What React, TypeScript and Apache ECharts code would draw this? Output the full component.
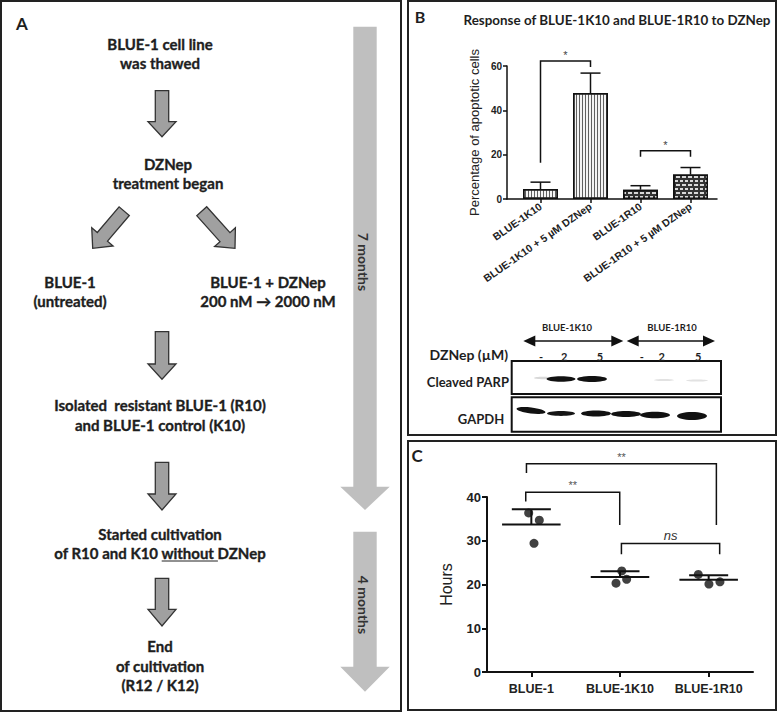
import React, { useEffect, useRef } from 'react';
import * as echarts from 'echarts';

// ---------- Panel B data ----------
const bCategories = ['BLUE-1K10', 'BLUE-1K10 + 5 µM DZNep', 'BLUE-1R10', 'BLUE-1R10 + 5 µM DZNep'];
const bStripeBars = [[0, 4.5], [1, 47.8]];
const bBrickBars = [[2, 4.2], [3, 11.0]];
const bMeans = [4.5, 47.8, 4.2, 11.0];
const bErrors = [3.1, 9.0, 1.8, 3.2];
// [xLeft, xRight, yLeftEnd, yTop, yRightEnd]
const bBrackets = [[0, 1, 16.3, 62.2, 59.5], [2, 3, 19.1, 21.8, 19.1]];
const bBracketLabels = ['*', '*'];

// ---------- Panel C data ----------
const cCategories = ['BLUE-1', 'BLUE-1K10', 'BLUE-1R10'];
const cPoints = [[36.35, 34.7, 29.4], [23.1, 20.3, 21.2], [22.3, 20.1, 20.6]];
const cJitter = [[-0.03, 0.09, 0.03], [0.02, -0.045, 0.075], [-0.117, 0.003, 0.127]];
const cMeans = [33.7, 21.7, 21.1];
const cSDUpper = [37.2, 23.05, 22.1];
const cBrackets = [[-0.055, 2.087, 45.5, 47.6, 33.6], [-0.063, 0.997, 39.0, 41.1, 33.6], [1.016, 2.124, 26.9, 29.4, 26.9]];
const cBracketLabels = ['**', '**', 'ns'];

const AX = 'Liberation Sans, Arial, sans-serif';
const CAL = 'Lato, Carlito, sans-serif';

function arrowPts(sx: number, sy: number, tx: number, ty: number, w: number, hw: number, hl: number) {
  const dx = tx - sx, dy = ty - sy;
  const L = Math.hypot(dx, dy);
  const ux = dx / L, uy = dy / L;
  const px = -uy, py = ux;
  const bx = tx - ux * hl, by = ty - uy * hl;
  return [
    [sx + px * w, sy + py * w], [bx + px * w, by + py * w], [bx + px * hw, by + py * hw],
    [tx, ty], [bx - px * hw, by - py * hw], [bx - px * w, by - py * w], [sx - px * w, sy - py * w],
  ];
}

function txt(x: number, y: number, text: string, size: number, opts: any = {}) {
  return {
    type: 'text', x, y, rotation: opts.rotation || 0, z: 10,
    style: {
      text, fill: opts.fill || '#1e1e1e', fontSize: size, fontWeight: opts.weight || 'bold',
      fontFamily: opts.family || CAL, fontStyle: opts.style || 'normal',
      align: opts.align || 'center', textAlign: opts.align || 'center',
      verticalAlign: 'middle', textVerticalAlign: 'middle',
      stroke: opts.stroke || undefined, lineWidth: opts.stroke ? 0.35 : 0,
    },
  };
}

function measure(text: string, font: string) {
  const c = document.createElement('canvas').getContext('2d');
  if (!c) return text.length * 7;
  c.font = font;
  return c.measureText(text).width;
}

function buildGraphic() {
  const el: any[] = [];
  const border = { stroke: '#222', lineWidth: 2, fill: 'none' };
  el.push({ type: 'rect', shape: { x: 1, y: 1, width: 400, height: 710 }, style: border });
  el.push({ type: 'rect', shape: { x: 408, y: 1, width: 368, height: 434 }, style: border });
  el.push({ type: 'rect', shape: { x: 408, y: 441, width: 368, height: 269 }, style: border });

  // panel letters
  el.push(txt(22, 23, 'A', 17));
  el.push(txt(420, 16, 'B', 16));
  el.push(txt(417, 455, 'C', 17));

  // timeline arrows
  const gray = { fill: '#bfbfbf', stroke: 'none' };
  el.push({ type: 'polygon', shape: { points: arrowPts(365, 26.7, 365, 510, 11.7, 24.7, 23.3) }, style: gray });
  el.push({ type: 'polygon', shape: { points: arrowPts(365, 531.7, 365, 691.7, 11.7, 24.7, 25) }, style: gray });
  el.push(txt(363.5, 262, '7 months', 14, { rotation: -Math.PI / 2, fill: '#333' }));
  el.push(txt(363.5, 605, '4 months', 14, { rotation: -Math.PI / 2, fill: '#333' }));

  // flowchart arrows
  const fa = { fill: '#a0a0a0', stroke: '#333', lineWidth: 1.3 };
  const downs = [[90.7, 136.7, 15], [331.7, 379.3, 15.3], [462.3, 510, 16], [578.3, 626, 16.7]];
  downs.forEach(([a, b, h]) => el.push({ type: 'polygon', shape: { points: arrowPts(162, a, 162, b, 6.7, 14, h) }, style: fa }));
  el.push({ type: 'polygon', shape: { points: arrowPts(124.2, 211.2, 92.7, 248.3, 6.7, 14, 15) }, style: fa });
  el.push({ type: 'polygon', shape: { points: arrowPts(201.7, 211.2, 235, 248.3, 6.7, 14, 15) }, style: fa });

  // flowchart texts
  const fs = 15;
  const o = { stroke: '#1e1e1e' };
  el.push(txt(160, 43.5, 'BLUE-1 cell line', fs, o));
  el.push(txt(160, 62.5, 'was thawed', fs, o));
  el.push(txt(168, 164, 'DZNep', fs, o));
  el.push(txt(168, 183, 'treatment began', fs, o));
  el.push(txt(70, 282, 'BLUE-1', fs, o));
  el.push(txt(70, 300.5, '(untreated)', fs, o));
  el.push(txt(268, 282, 'BLUE-1 + DZNep', fs, o));
  el.push(txt(268, 300.5, '200 nM → 2000 nM', fs, o));
  el.push(txt(160, 405, 'Isolated\u00a0 resistant BLUE-1 (R10)', fs, o));
  el.push(txt(160, 424.5, 'and BLUE-1 control (K10)', fs, o));
  el.push(txt(160, 533.5, 'Started cultivation', fs, o));
  const line2 = 'of R10 and K10 without DZNep';
  el.push(txt(160, 552.5, line2, fs, o));
  const font = `bold ${fs}px Lato`;
  const full = measure(line2, font);
  const pre = measure('of R10 and K10 ', font);
  const wo = measure('without ', font);
  const ux = 160 - full / 2 + pre;
  el.push({ type: 'line', shape: { x1: ux, y1: 561, x2: ux + wo, y2: 561 }, style: { stroke: '#222', lineWidth: 1 } });
  el.push(txt(160, 646, 'End', fs, o));
  el.push(txt(160, 665.5, 'of cultivation', fs, o));
  el.push(txt(160, 685, '(R12 / K12)', fs, o));

  // B title
  el.push(txt(617, 20, 'Response of BLUE-1K10 and BLUE-1R10 to DZNep', 13.4));

  // western blot
  el.push(txt(567, 327, 'BLUE-1K10', 9.5));
  el.push(txt(672, 327, 'BLUE-1R10', 9.5));
  const dbl = (x1: number, x2: number, y: number) => {
    el.push({ type: 'line', shape: { x1: x1 + 8, y1: y, x2: x2 - 8, y2: y }, style: { stroke: '#111', lineWidth: 1.5 } });
    el.push({ type: 'polygon', shape: { points: [[x1, y], [x1 + 12, y - 5.5], [x1 + 12, y + 5.5]] }, style: { fill: '#111' } });
    el.push({ type: 'polygon', shape: { points: [[x2, y], [x2 - 12, y - 5.5], [x2 - 12, y + 5.5]] }, style: { fill: '#111' } });
  };
  dbl(523.3, 623.3, 341);
  dbl(626.7, 715, 341);
  el.push(txt(508, 354.5, 'DZNep (µM)', 14, { align: 'right' }));
  const lanes = [['-', 541], ['2', 564.3], ['5', 600], ['-', 641.7], ['2', 661.7], ['5', 698.3]];
  lanes.forEach(([t, x]) => el.push(txt(x as number, 356, t as string, 11)));
  el.push(txt(509, 381.5, 'Cleaved PARP', 13, { align: 'right' }));
  el.push(txt(481, 418.5, 'GAPDH', 13));
  el.push({ type: 'rect', shape: { x: 511.7, y: 361, width: 209.3, height: 33 }, style: { fill: '#fff', stroke: '#111', lineWidth: 2 } });
  el.push({ type: 'rect', shape: { x: 511.7, y: 397.3, width: 209.3, height: 34.4 }, style: { fill: '#fff', stroke: '#111', lineWidth: 2 } });
  const band = (cx: number, cy: number, rx: number, ry: number, fill: string, rot = 0) =>
    el.push({ type: 'ellipse', x: cx, y: cy, rotation: rot, z: 5, shape: { cx: 0, cy: 0, rx, ry }, style: { fill } });
  band(543, 378, 9, 1.2, '#d8d8d8');
  band(561, 379, 14.5, 2.8, '#111');
  band(592, 379, 15, 3, '#111');
  band(664, 380, 10, 1.1, '#e2e2e2');
  band(697, 380.5, 11, 1.1, '#e2e2e2');
  band(531, 410.5, 14.5, 3, '#111', -0.12);
  band(561, 413.5, 14, 2.4, '#151515');
  band(596, 413.5, 15, 3, '#111');
  band(626, 414, 15, 3, '#111');
  band(655, 415, 15, 3.3, '#111');
  band(692, 416, 15, 4, '#111');
  return el;
}

const bracketRender = (labels: string[], styles: any[]) => (params: any, api: any) => {
  const xl = api.value(0), xr = api.value(1), yl = api.value(2), yt = api.value(3), yr = api.value(4);
  const a = api.coord([xl, yl]), b = api.coord([xl, yt]), c = api.coord([xr, yt]), d = api.coord([xr, yr]);
  const st = styles[params.dataIndex];
  return {
    type: 'group',
    children: [
      { type: 'polyline', shape: { points: [a, b, c, d] }, style: { stroke: '#111', lineWidth: 1.5, fill: 'none' } },
      {
        type: 'text', x: (b[0] + c[0]) / 2, y: b[1] - st.off,
        style: {
          text: labels[params.dataIndex], fill: st.fill, fontSize: st.size, fontFamily: AX,
          fontStyle: st.italic ? 'italic' : 'normal', fontWeight: 'normal',
          align: 'center', textAlign: 'center', verticalAlign: 'middle', textVerticalAlign: 'middle',
        },
      },
    ],
  };
};

export default function App() {
  const ref = useRef<HTMLDivElement>(null);
  useEffect(() => {
    if (!ref.current) return;
    const chart = echarts.init(ref.current, null, { renderer: 'svg' });
    const axLine = (w: number) => ({ show: true, onZero: false, lineStyle: { color: '#111', width: w } });
    const stripeDecal = { symbol: 'rect', symbolSize: 1, dashArrayX: [1, 2], dashArrayY: [10, 0], color: 'rgba(70,70,70,0.85)', rotation: 0 };
    const brickDecal = { symbol: 'rect', symbolSize: 1, dashArrayX: [[3, 1.4], [1.5, 1.4, 1.5, 0]], dashArrayY: [2, 1.2], color: '#d8d8d8', rotation: 0 };

    const cScatter: number[][] = [];
    cPoints.forEach((arr, i) => arr.forEach((v, j) => cScatter.push([i + cJitter[i][j], v])));

    const option: any = {
      animation: false,
      backgroundColor: '#fff',
      grid: [
        { left: 507, top: 66, width: 210, height: 133 },
        { left: 487, top: 497, width: 266, height: 175 },
      ],
      xAxis: [
        {
          gridIndex: 0, type: 'value', min: -0.67, max: 3.53,
          axisLine: axLine(1.5),
          axisTick: { show: true, customValues: [0, 1, 2, 3], length: 4, lineStyle: { color: '#111', width: 1.5 } },
          axisLabel: {
            customValues: [0, 1, 2, 3], formatter: (v: number) => bCategories[Math.round(v)] || '',
            rotate: 35, fontFamily: AX, fontWeight: 'bold', fontSize: 10.5, color: '#222', margin: 6,
          },
          splitLine: { show: false },
        },
        {
          gridIndex: 1, type: 'value', min: -0.5, max: 2.5,
          axisLine: axLine(2),
          axisTick: { show: true, customValues: [0, 1, 2], length: 5, lineStyle: { color: '#111', width: 2 } },
          axisLabel: {
            customValues: [0, 1, 2], formatter: (v: number) => cCategories[Math.round(v)] || '',
            fontFamily: AX, fontWeight: 'bold', fontSize: 12.5, color: '#222', margin: 10,
          },
          splitLine: { show: false },
        },
      ],
      yAxis: [
        {
          gridIndex: 0, type: 'value', min: 0, max: 60, interval: 20,
          axisLine: axLine(1.5),
          axisTick: { show: true, length: 4, lineStyle: { color: '#111', width: 1.5 } },
          axisLabel: { fontFamily: AX, fontWeight: 'bold', fontSize: 10, color: '#222', margin: 5 },
          splitLine: { show: false },
          name: 'Percentage of apoptotic cells', nameLocation: 'middle', nameGap: 26,
          nameTextStyle: { fontFamily: AX, fontSize: 13, color: '#222', fontWeight: 500 },
        },
        {
          gridIndex: 1, type: 'value', min: 0, max: 40, interval: 10,
          axisLine: axLine(2),
          axisTick: { show: true, length: 5, lineStyle: { color: '#111', width: 2 } },
          axisLabel: { fontFamily: AX, fontWeight: 'bold', fontSize: 13, color: '#222', margin: 6 },
          splitLine: { show: false },
          name: 'Hours', nameLocation: 'middle', nameGap: 33,
          nameTextStyle: { fontFamily: AX, fontSize: 16, color: '#222' },
        },
      ],
      series: [
        {
          type: 'bar', xAxisIndex: 0, yAxisIndex: 0, data: bStripeBars, barWidth: 35, barGap: '-100%',
          itemStyle: { color: '#f4f4f4', borderColor: '#111', borderWidth: 1.5, decal: stripeDecal },
        },
        {
          type: 'bar', xAxisIndex: 0, yAxisIndex: 0, data: bBrickBars, barWidth: 35, barGap: '-100%',
          itemStyle: { color: '#333', borderColor: '#111', borderWidth: 1.5, decal: brickDecal },
        },
        {
          type: 'custom', xAxisIndex: 0, yAxisIndex: 0, clip: false, z: 5,
          data: bMeans.map((m, i) => [i, m, m + bErrors[i]]),
          renderItem: (params: any, api: any) => {
            const p0 = api.coord([api.value(0), api.value(1)]);
            const p1 = api.coord([api.value(0), api.value(2)]);
            const s = { stroke: '#111', lineWidth: 1.5 };
            return {
              type: 'group', children: [
                { type: 'line', shape: { x1: p0[0], y1: p0[1], x2: p1[0], y2: p1[1] }, style: s },
                { type: 'line', shape: { x1: p1[0] - 10, y1: p1[1], x2: p1[0] + 10, y2: p1[1] }, style: s },
              ],
            };
          },
        },
        {
          type: 'custom', xAxisIndex: 0, yAxisIndex: 0, clip: false, z: 5, data: bBrackets,
          renderItem: bracketRender(bBracketLabels, [{ off: 6, size: 11, fill: '#444' }, { off: 6, size: 11, fill: '#444' }]),
        },
        {
          type: 'scatter', xAxisIndex: 1, yAxisIndex: 1, data: cScatter, symbolSize: 9,
          itemStyle: { color: '#111' }, z: 3,
        },
        {
          type: 'custom', xAxisIndex: 1, yAxisIndex: 1, clip: false, z: 4,
          data: cMeans.map((m, i) => [i, m, cSDUpper[i]]),
          renderItem: (params: any, api: any) => {
            const x = api.value(0), m = api.value(1), u = api.value(2);
            const a = api.coord([x - 0.33, m]), b = api.coord([x + 0.33, m]);
            const c = api.coord([x, m]), d = api.coord([x, u]);
            const e = api.coord([x - 0.22, u]), f = api.coord([x + 0.22, u]);
            const s = { stroke: '#111', lineWidth: 2 };
            return {
              type: 'group', children: [
                { type: 'line', shape: { x1: a[0], y1: a[1], x2: b[0], y2: b[1] }, style: s },
                { type: 'line', shape: { x1: c[0], y1: c[1], x2: d[0], y2: d[1] }, style: s },
                { type: 'line', shape: { x1: e[0], y1: e[1], x2: f[0], y2: f[1] }, style: s },
              ],
            };
          },
        },
        {
          type: 'custom', xAxisIndex: 1, yAxisIndex: 1, clip: false, z: 5, data: cBrackets,
          renderItem: bracketRender(cBracketLabels, [
            { off: 7, size: 11, fill: '#555' }, { off: 7, size: 11, fill: '#555' }, { off: 8, size: 13, fill: '#333', italic: true },
          ]),
        },
      ],
      graphic: { elements: buildGraphic() },
    };
    chart.setOption(option);
    return () => chart.dispose();
  }, []);
  return <div ref={ref} style={{ position: 'fixed', left: 0, top: 0, width: 778, height: 716, background: '#fff' }} />;
}
